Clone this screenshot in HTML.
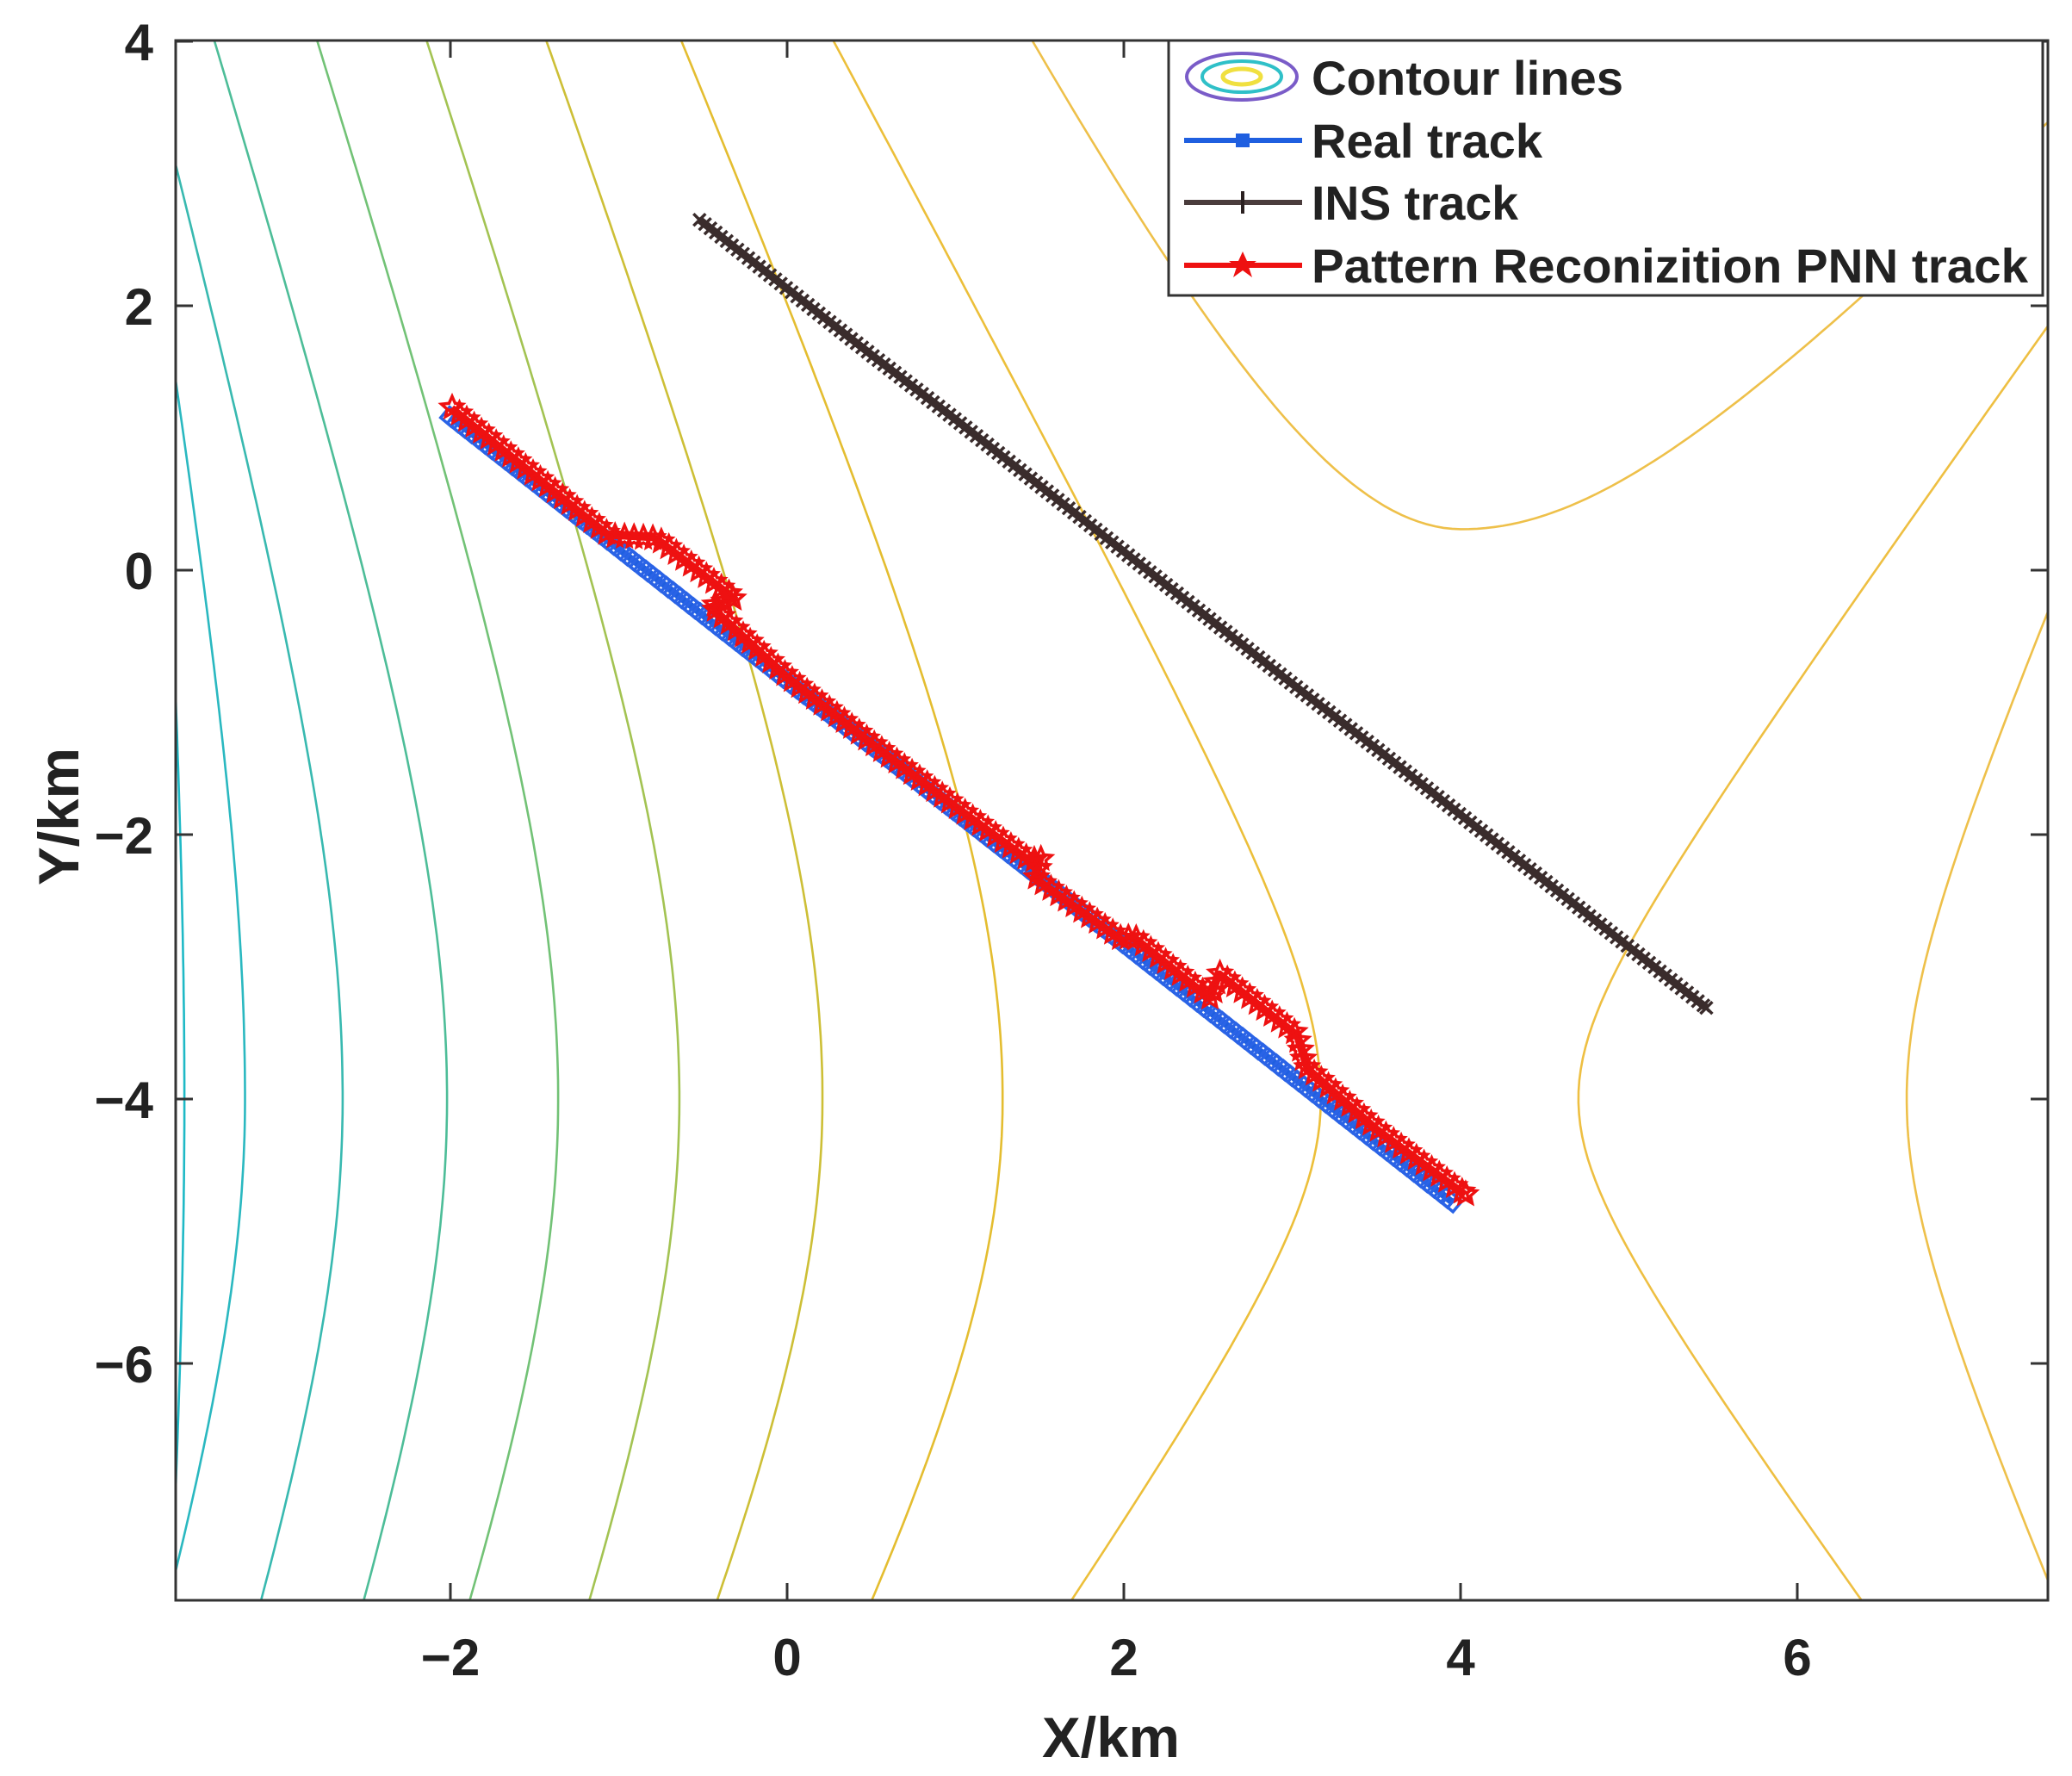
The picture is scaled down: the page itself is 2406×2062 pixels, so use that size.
<!DOCTYPE html>
<html><head><meta charset="utf-8"><style>
html,body{margin:0;padding:0;background:#fff;}
svg{display:block;}
text{font-family:"Liberation Sans Narrow","Liberation Sans",sans-serif;font-weight:bold;fill:#222;}
</style></head><body>
<svg id="chart" width="2406" height="2062" viewBox="0 0 2406 2062" xmlns="http://www.w3.org/2000/svg">
<defs><clipPath id="plotClip"><rect x="204" y="47" width="2174" height="1811"/></clipPath></defs>
<rect x="0" y="0" width="2406" height="2062" fill="#fff"/>
<g id="contours" clip-path="url(#plotClip)"></g>
<g id="tracks" clip-path="url(#plotClip)"></g>
<g id="axes"></g>
<text x="1290" y="2040" font-size="66" text-anchor="middle" fill="#333" textLength="160" lengthAdjust="spacingAndGlyphs">X/km</text>
<text x="0" y="0" font-size="66" text-anchor="middle" transform="translate(91,948) rotate(-90)" textLength="160" lengthAdjust="spacingAndGlyphs">Y/km</text>
<g id="legend">
  <rect x="1357" y="47" width="1015" height="296" fill="#fff" stroke="#333" stroke-width="3"/>
  <g>
    <ellipse cx="1442" cy="89" rx="64" ry="27" fill="none" stroke="#7a5cc8" stroke-width="4"/>
    <ellipse cx="1442" cy="89" rx="46" ry="18" fill="none" stroke="#2fc0c8" stroke-width="4"/>
    <ellipse cx="1442" cy="89" rx="22" ry="9" fill="none" stroke="#f0e040" stroke-width="5"/>
    <text x="1523" y="110" font-size="56" textLength="362" lengthAdjust="spacingAndGlyphs">Contour lines</text>
  </g>
  <g>
    <line x1="1375" y1="163" x2="1512" y2="163" stroke="#1f5fe0" stroke-width="6"/>
    <rect x="1435" y="155" width="16" height="16" fill="#1f5fe0"/>
    <text x="1523" y="183" font-size="56" textLength="268" lengthAdjust="spacingAndGlyphs">Real track</text>
  </g>
  <g>
    <line x1="1375" y1="235" x2="1512" y2="235" stroke="#4a3c3c" stroke-width="6"/>
    <line x1="1443" y1="222" x2="1443" y2="248" stroke="#2a2020" stroke-width="4"/>
    <text x="1523" y="255" font-size="56" textLength="240" lengthAdjust="spacingAndGlyphs">INS track</text>
  </g>
  <g>
    <line x1="1375" y1="308" x2="1512" y2="308" stroke="#ee1111" stroke-width="6"/>
    <polygon points="1443,292 1448,303 1459,303 1450,310 1454,322 1443,314 1432,322 1436,310 1427,303 1438,303" fill="#ee1111"/>
    <text x="1523" y="328" font-size="56" textLength="832" lengthAdjust="spacingAndGlyphs">Pattern Reconizition PNN track</text>
  </g>
</g>
</svg>
<script>
// ---- axis ----
const PL = 204, PR = 2378, PT = 47, PB = 1858;
const X0PX = 914, XU = 195.5, Y0PX = 662, YU = 153.5;
function sx(x){ return X0PX + x * XU; }
function sy(y){ return Y0PX - y * YU; }

const xTicks = [-2, 0, 2, 4, 6];
const xTickLabels = ["\u22122", "0", "2", "4", "6"];
const yTicks = [4, 2, 0, -2, -4, -6];
const yTickLabels = ["4", "2", "0", "\u22122", "\u22124", "\u22126"];

// ---- contour data: vertex, upper anchor, lower anchor, curvature scale ----
const contourColors = ["#1fb9c6","#2ab8c0","#38b9b0","#4dbd98","#72c276","#a3c352","#cdbf36","#e4bd30","#ecbf3a","#eebf42","#eec04a"];
const vertexX = [-3.58,-3.22,-2.64,-2.02,-1.36,-0.64,0.21,1.28,3.17,4.70,6.65];
const vertexY = [-4.0,-4.0,-4.0,-4.0,-4.0,-4.0,-4.0,-4.0,-4.0,-4.0,-4.0];
const upperX = [-3.65,-3.65,-3.65,-3.41,-2.80,-2.15,-1.44,-0.64,0.26,7.49,7.49];
const upperY = [-0.36,1.60,3.16,4.04,4.04,4.04,4.04,4.04,4.04,1.85,-0.31];
const lowerX = [-3.65,-3.67,-3.12,-2.51,-1.88,-1.17,-0.41,0.51,1.70,6.37,7.53];
const lowerY = [-7.52,-7.77,-7.77,-7.77,-7.77,-7.77,-7.77,-7.77,-7.77,-7.77,-7.77];
const bendScale = [3,3,3,3,3,3,3,3,1.3,1.0,1.5];
// U-shaped contour at top
const uVertex = [4.01, 0.31];
const uLeft = [1.44, 4.04];
const uRight = [6.41, 2.10];
const uBend = 1.5;

// ---- track data ----
const realX = [-2.0,-1.75,-1.5,-1.25,-1.0,-0.75,-0.5,-0.25,0,0.25,0.5,0.75,1,1.25,1.5,1.75,2,2.25,2.5,2.75,3,3.25,3.5,3.75,3.95];
const realY = [1.16,0.91,0.66,0.41,0.16,-0.09,-0.34,-0.59,-0.84,-1.09,-1.33,-1.58,-1.83,-2.08,-2.33,-2.58,-2.83,-3.08,-3.33,-3.58,-3.83,-4.08,-4.33,-4.58,-4.78];
const insX = [-0.52,0,0.5,1,1.5,2,2.5,3,3.5,4,4.5,5,5.46];
const insY = [2.65,2.13,1.63,1.14,0.64,0.14,-0.36,-0.86,-1.35,-1.85,-2.35,-2.85,-3.31];
const pnnX = [-1.99,-1.05,-0.77,-0.31,-0.45,0.0,0.5,1.0,1.45,1.51,1.48,2.0,2.05,2.52,2.57,3.02,3.08,3.5,4.03];
const pnnY = [1.23,0.26,0.24,-0.21,-0.27,-0.80,-1.30,-1.78,-2.20,-2.17,-2.33,-2.80,-2.76,-3.24,-3.05,-3.50,-3.75,-4.22,-4.72];

const NS = "http://www.w3.org/2000/svg";
function mk(tag, attrs, parent){
  const e = document.createElementNS(NS, tag);
  for (const k in attrs) e.setAttribute(k, attrs[k]);
  parent.appendChild(e);
  return e;
}
function g(d, b){ return Math.sqrt(1 + (d/b)*(d/b)) - 1; }

// contours
const cg = document.getElementById("contours");
for (let i = 0; i < vertexX.length; i++){
  const xv = vertexX[i], yv = vertexY[i], b = bendScale[i];
  const Au = (upperX[i] - xv) / g(upperY[i] - yv, b);
  const Al = (lowerX[i] - xv) / g(lowerY[i] - yv, b);
  let d = "";
  for (let k = 0; k <= 160; k++){
    const y = -8.5 + k * 13.5 / 160;
    const A = y >= yv ? Au : Al;
    const x = xv + A * g(y - yv, b);
    d += (k === 0 ? "M" : "L") + sx(x).toFixed(1) + "," + sy(y).toFixed(1);
  }
  const p = mk("path", {d: d, fill: "none", stroke: contourColors[i], "stroke-width": 2.6}, cg);
  
  
}
{
  const xv = uVertex[0], yv = uVertex[1];
  const AL = (uLeft[1] - yv) / g(uLeft[0] - xv, uBend);
  const AR = (uRight[1] - yv) / g(uRight[0] - xv, uBend);
  let d = "";
  for (let k = 0; k <= 160; k++){
    const x = 0.5 + k * 8 / 160;
    const A = x < xv ? AL : AR;
    const y = yv + A * g(x - xv, uBend);
    d += (k === 0 ? "M" : "L") + sx(x).toFixed(1) + "," + sy(y).toFixed(1);
  }
  const p = mk("path", {d: d, fill: "none", stroke: "#eec04a", "stroke-width": 2.6}, cg);
  
  
}

// markers along polyline
function alongPath(xs, ys, spacing){
  const out = [];
  let carry = 0;
  for (let i = 0; i < xs.length - 1; i++){
    const a = [sx(xs[i]), sy(ys[i])], b = [sx(xs[i+1]), sy(ys[i+1])];
    const L = Math.hypot(b[0]-a[0], b[1]-a[1]);
    let t = carry;
    while (t <= L){ out.push([a[0] + (b[0]-a[0])*t/L, a[1] + (b[1]-a[1])*t/L]); t += spacing; }
    carry = t - L;
  }
  out.push([sx(xs[xs.length-1]), sy(ys[ys.length-1])]);
  return out;
}
const tg = document.getElementById("tracks");
function polyline(xs, ys, color, w, name, parent){
  const pts = xs.map((x, i) => sx(x).toFixed(1) + "," + sy(ys[i]).toFixed(1)).join(" ");
  const l = mk("polyline", {points: pts, fill: "none", stroke: color, "stroke-width": w, "stroke-linejoin": "round"}, parent);
  
  
}

// real track
const rg = mk("g", {}, tg);


polyline(realX, realY, "#1f5fe0", 8, "real-track-line", rg);
alongPath(realX, realY, 10).forEach(p => {
  const m = mk("rect", {x: (p[0]-8).toFixed(1), y: (p[1]-8).toFixed(1), width: 16, height: 16, fill: "none", stroke: "#2a63e6", "stroke-width": 3.5, transform: "rotate(40 " + p[0].toFixed(1) + " " + p[1].toFixed(1) + ")"}, rg);
  
  
});

// INS track
const ig = mk("g", {}, tg);


polyline(insX, insY, "#3a2c2c", 9, "ins-track-line", ig);
alongPath(insX, insY, 8).forEach(p => {
  const m = mk("path", {d: "M" + (p[0]-7).toFixed(1) + "," + (p[1]-7).toFixed(1) + " l14,14 M" + (p[0]+7).toFixed(1) + "," + (p[1]-7).toFixed(1) + " l-14,14", stroke: "#3a2c2c", "stroke-width": 3.5, fill: "none"}, ig);
  
  
});

// PNN track
const pg = mk("g", {}, tg);


polyline(pnnX, pnnY, "#ee1111", 7, "pnn-track-line", pg);
alongPath(pnnX, pnnY, 11).forEach(p => {
  let d = "";
  for (let k = 0; k < 10; k++){
    const r = (k % 2 === 0) ? 13 : 6;
    const a = -Math.PI/2 + k * Math.PI/5;
    d += (k === 0 ? "M" : "L") + (p[0] + r*Math.cos(a)).toFixed(1) + "," + (p[1] + r*Math.sin(a)).toFixed(1);
  }
  const m = mk("path", {d: d + "Z", fill: "none", stroke: "#ee1111", "stroke-width": 3.5}, pg);
  
  
});

// axes
const ag = document.getElementById("axes");
const box = mk("rect", {x: PL, y: PT, width: PR-PL, height: PB-PT, fill: "none", stroke: "#333", "stroke-width": 3}, ag);


xTicks.forEach((v, i) => {
  const x = sx(v);
  const t1 = mk("line", {x1: x, y1: PB, x2: x, y2: PB-20, stroke: "#333", "stroke-width": 3}, ag);
  
  
  const t2 = mk("line", {x1: x, y1: PT, x2: x, y2: PT+20, stroke: "#333", "stroke-width": 3}, ag);
  
  
  const tx = mk("text", {x: x, y: 1945, "font-size": 60, "text-anchor": "middle"}, ag);
  tx.textContent = xTickLabels[i];
  
  
});
yTicks.forEach((v, i) => {
  const y = sy(v);
  const t1 = mk("line", {x1: PL, y1: y, x2: PL+20, y2: y, stroke: "#333", "stroke-width": 3}, ag);
  
  
  const t2 = mk("line", {x1: PR, y1: y, x2: PR-20, y2: y, stroke: "#333", "stroke-width": 3}, ag);
  
  
  const tx = mk("text", {x: 178, y: y + 22, "font-size": 60, "text-anchor": "end"}, ag);
  tx.textContent = yTickLabels[i];
  
  
});
</script>
</body></html>
